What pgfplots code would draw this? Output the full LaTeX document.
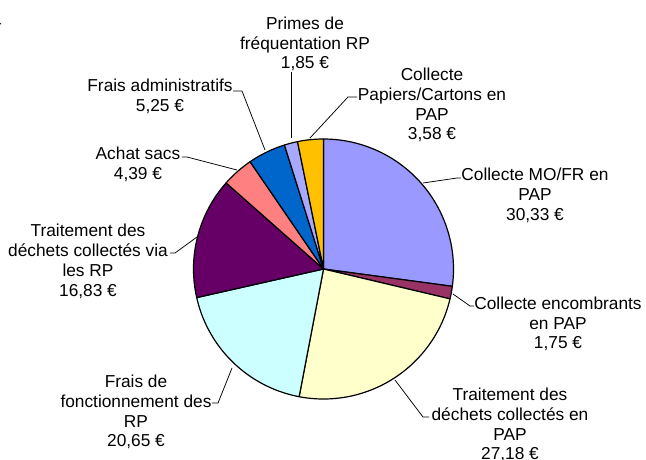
\documentclass[border=0pt]{standalone}
\usepackage{fontspec}
\setmainfont{Liberation Sans}
\usepackage{pgfplots}
\usepackage{pgfplotstable}
\pgfplotsset{compat=1.18}
\definecolor{c1}{HTML}{9999FF}
\definecolor{c2}{HTML}{993366}
\definecolor{c3}{HTML}{FFFFCC}
\definecolor{c4}{HTML}{CCFFFF}
\definecolor{c5}{HTML}{660066}
\definecolor{c6}{HTML}{FF8080}
\definecolor{c7}{HTML}{0066CC}
\definecolor{c8}{HTML}{A8A8FF}
\definecolor{c9}{HTML}{FFC000}
\tikzset{lbl/.style={font=\fontsize{17.3}{19.8}\selectfont, align=center, inner sep=0pt}}
\pgfplotstableread{
value color
30.33 c1
1.75 c2
27.18 c3
20.65 c4
16.83 c5
4.39 c6
5.25 c7
1.85 c8
3.58 c9
}\piedata
\begin{document}
\begin{tikzpicture}
\begin{axis}[x=1pt, y=1pt, xmin=0, xmax=646, ymin=0, ymax=459, y dir=reverse,
  hide axis, clip=false]
\def\cum{0}
\pgfplotsforeachungrouped \i in {0,...,8}{%
  \pgfplotstablegetelem{\i}{value}\of\piedata
  \pgfmathsetmacro\cum{\cum+\pgfplotsretval}}
\let\total\cum
\def\cum{0}
\pgfplotsforeachungrouped \i in {0,...,8}{%
  \pgfplotstablegetelem{\i}{value}\of\piedata \let\v\pgfplotsretval
  \pgfplotstablegetelem{\i}{color}\of\piedata \let\c\pgfplotsretval
  \pgfmathsetmacro\a{90-(\cum/\total)*360}%
  \pgfmathsetmacro\cum{\cum+\v}%
  \pgfmathsetmacro\b{90-(\cum/\total)*360}%
  \edef\tmp{\noexpand\addplot[draw=black, line width=1.2pt, fill=\c, line join=round,
     domain=\b:\a, samples=90] ({323.5+130*cos(x)},{269-130*sin(x)}) -- (axis cs:323.5,269) -- cycle;}%
  \tmp
}
% leader lines
\draw[black, line width=0.75pt] (axis cs:291,138) -- (axis cs:291,72);
\draw[black, line width=0.75pt] (axis cs:310,138) -- (axis cs:348,97) -- (axis cs:357,97);
\draw[black, line width=0.75pt] (axis cs:423,183) -- (axis cs:457,178) -- (axis cs:461,178);
\draw[black, line width=0.75pt] (axis cs:453,294) -- (axis cs:470,306) -- (axis cs:474,306);
\draw[black, line width=0.75pt] (axis cs:395,380) -- (axis cs:423,417) -- (axis cs:429,417);
\draw[black, line width=0.75pt] (axis cs:232,368) -- (axis cs:218,403) -- (axis cs:212,403);
\draw[black, line width=0.75pt] (axis cs:197,237) -- (axis cs:175,253) -- (axis cs:170,253);
\draw[black, line width=0.75pt] (axis cs:237,170) -- (axis cs:187,157) -- (axis cs:182,157);
\draw[black, line width=0.75pt] (axis cs:265,150) -- (axis cs:242,91) -- (axis cs:233,91);
% labels
\node[lbl] at (axis cs:305,44) {Primes de\\fréquentation RP\\1,85 €};
\node[lbl] at (axis cs:432,105) {Collecte\\Papiers/Cartons en\\PAP\\3,58 €};
\node[lbl] at (axis cs:535,195.5) {Collecte MO/FR en\\PAP\\30,33 €};
\node[lbl] at (axis cs:558,324) {Collecte encombrants\\en PAP\\1,75 €};
\node[lbl] at (axis cs:510,425) {Traitement des\\déchets collectés en\\PAP\\27,18 €};
\node[lbl] at (axis cs:136,412) {Frais de\\fonctionnement des\\RP\\20,65 €};
\node[lbl] at (axis cs:88,261.5) {Traitement des\\déchets collectés via\\les RP\\16,83 €};
\node[lbl] at (axis cs:138,164) {Achat sacs\\4,39 €};
\node[lbl] at (axis cs:160,96.5) {Frais administratifs\\5,25 €};
\node[lbl, anchor=east] at (axis cs:2,22) {4};
\end{axis}
\pgfresetboundingbox
\useasboundingbox (0,0) rectangle (646pt,459pt);
\end{tikzpicture}
\end{document}
